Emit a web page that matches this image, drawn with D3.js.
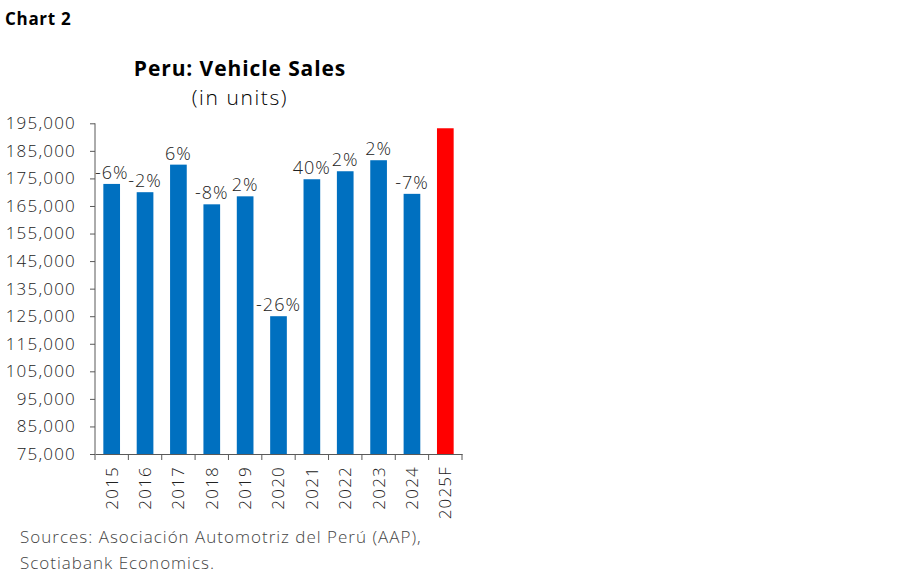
<!DOCTYPE html>
<html><head><meta charset="utf-8">
<script src="https://cdn.jsdelivr.net/npm/d3@7"></script>
<style>body{margin:0;background:#fff;}svg{display:block;font-family:"Open Sans",sans-serif;}</style>
</head><body>
<svg id="c" width="900" height="579"></svg>
<script>
const categories = ["2015","2016","2017","2018","2019","2020","2021","2022","2023","2024","2025F"];
const sales = [173000,170000,180000,165600,168500,125000,174700,177600,181600,169400,193200];
const growthLabels = ["-6%","-2%","6%","-8%","2%","-26%","40%","2%","2%","-7%",""];
const yTicks = [75000,85000,95000,105000,115000,125000,135000,145000,155000,165000,175000,185000,195000];
const barColors = ["#0070C0","#0070C0","#0070C0","#0070C0","#0070C0","#0070C0","#0070C0","#0070C0","#0070C0","#0070C0","#FF0000"];

const FONT = "'Open Sans',sans-serif";
const svg = d3.select("#c");
const x = d3.scaleBand().domain(categories).range([95,462]).paddingInner(0.5).paddingOuter(0.25);
const y = d3.scaleLinear().domain([75000,195000]).range([454,123.3]);

svg.append("text").attr("x",5).attr("y",25).attr("font-size",17).attr("font-weight","bold").attr("letter-spacing",0.7).attr("fill","#000").text("Chart 2");
svg.append("text").attr("x",240).attr("y",76).attr("text-anchor","middle").attr("font-size",21).attr("font-weight","bold").attr("letter-spacing",0.9).attr("fill","#000").text("Peru: Vehicle Sales");
svg.append("text").attr("x",240).attr("y",105).attr("text-anchor","middle").attr("font-size",21).attr("font-weight",300).attr("letter-spacing",1.6).attr("fill","#000").text("(in units)");

svg.selectAll("rect.bar").data(categories).enter().append("rect").attr("class","bar")
  .attr("x",d=>x(d)).attr("width",x.bandwidth())
  .attr("y",(d,i)=>y(sales[i])).attr("height",(d,i)=>y(75000)-y(sales[i]))
  .attr("fill",(d,i)=>barColors[i]);

svg.selectAll("text.lbl").data(categories).enter().append("text").attr("class","lbl")
  .attr("x",d=>x(d)+x.bandwidth()/2).attr("y",(d,i)=>y(sales[i])-5)
  .attr("text-anchor","middle").attr("font-size",18).attr("font-weight",300).attr("letter-spacing",1).attr("fill","#222")
  .text((d,i)=>growthLabels[i]);

const yAxis = svg.append("g").attr("transform","translate(95,0)")
  .call(d3.axisLeft(y).tickValues(yTicks).tickSize(5).tickPadding(18).tickFormat(d3.format(",")));
yAxis.select(".domain").attr("stroke","#595959").attr("d","M0,"+y(195000)+"V"+y(75000));
yAxis.selectAll(".tick line").attr("stroke","#595959");
yAxis.selectAll(".tick text").attr("font-size",17).attr("font-weight",300).attr("letter-spacing",1.2).attr("fill","#222").attr("font-family",FONT).attr("x",-19);

const xAxis = svg.append("g").attr("transform","translate(0,454)")
  .call(d3.axisBottom(x).tickSize(0).tickPadding(0));
xAxis.select(".domain").attr("stroke","#595959");
xAxis.selectAll(".tick text").attr("font-size",17).attr("font-weight",300).attr("letter-spacing",1.2).attr("fill","#222").attr("font-family",FONT)
  .attr("transform","rotate(-90)").attr("text-anchor","end").attr("x",-12).attr("y",0).attr("dy","0.35em");
const bounds = [...categories.map(c=>x(c)-x.step()*x.paddingInner()/2), 462];
svg.append("g").selectAll("line").data(bounds).enter().append("line")
  .attr("x1",d=>d).attr("x2",d=>d).attr("y1",454).attr("y2",460).attr("stroke","#595959");

svg.append("text").attr("x",20).attr("y",543).attr("font-size",17).attr("font-weight",300).attr("letter-spacing",1).attr("fill","#444").text("Sources: Asociación Automotriz del Perú (AAP),");
svg.append("text").attr("x",20).attr("y",569).attr("font-size",17).attr("font-weight",300).attr("letter-spacing",1).attr("fill","#444").text("Scotiabank Economics.");
</script>
</body></html>
